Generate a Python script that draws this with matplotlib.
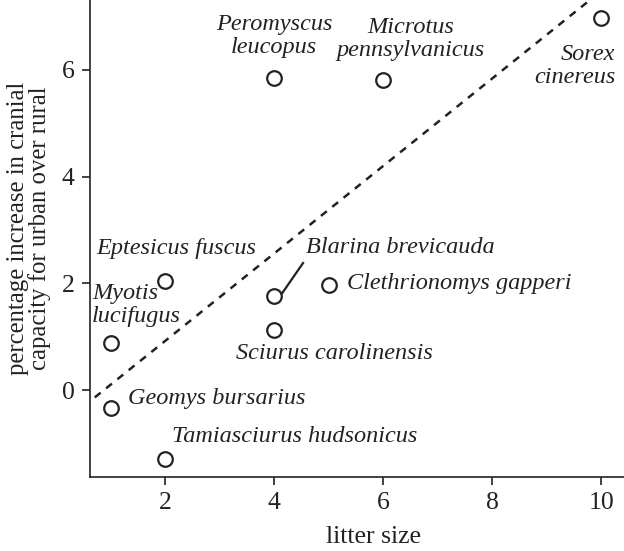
import matplotlib
matplotlib.use('Agg')
import matplotlib.pyplot as plt
import numpy as np

plt.rcParams['font.family'] = ['Liberation Serif', 'DejaVu Serif']

# litter size vs % increase in cranial capacity (urban over rural)
species = ['Peromyscus\nleucopus', 'Microtus\npennsylvanicus', 'Sorex\ncinereus',
           'Eptesicus fuscus', 'Myotis\nlucifugus', 'Blarina brevicauda',
           'Sciurus carolinensis', 'Clethrionomys gapperi', 'Geomys bursarius',
           'Tamiasciurus hudsonicus']
litter = [4, 6, 10, 2, 1, 4, 4, 5, 1, 2]
increase = [5.85, 5.81, 6.98, 2.04, 0.88, 1.76, 1.12, 1.97, -0.34, -1.29]

# label anchor positions (data coords) and alignment
lab_x = [4.0, 6.5, 10.26, 0.73, 0.66, 4.59, 3.30, 5.34, 1.32, 2.13]
lab_y = [6.63, 6.58, 6.07, 2.66, 1.59, 2.68, 0.69, 2.0, -0.15, -0.88]
lab_ha = ['center', 'center', 'right', 'left', 'left', 'left', 'left', 'left', 'left', 'left']

fig = plt.figure(figsize=(6.24, 5.51), dpi=100)
ax = fig.add_axes([90/624, 74/551, 534/624, 477/551])

ax.plot(litter, increase, 'o', mfc='white', mec='#222222', ms=10.5, mew=1.6,
        zorder=3, clip_on=False)

# least squares line
b, a = np.polyfit(litter, increase, 1)
xx = np.array([0.5, 11])
ax.plot(xx, a + b*xx, color='#222222', lw=1.8, ls=(0, (3, 2.8)))

for s, x, y, ha in zip(species, lab_x, lab_y, lab_ha):
    ax.text(x, y, s, ha=ha, va='center', multialignment=ha, style='italic',
            fontsize=17.5, color='#222222', linespacing=1.1)

# leader line for Blarina
ax.plot([4.15, 4.53], [1.82, 2.38], color='#222222', lw=1.6)

ax.set_xlim(0.62, 10.42)
ax.set_ylim(-1.63, 7.31)
ax.set_xticks([2, 4, 6, 8, 10])
ax.set_yticks([0, 2, 4, 6])
for side in ['top', 'right']:
    ax.spines[side].set_visible(False)
for side in ['left', 'bottom']:
    ax.spines[side].set_linewidth(1.2)
    ax.spines[side].set_color('#222222')
ax.tick_params(direction='out', length=6, width=1.2, color='#222222',
               labelsize=18.5, labelcolor='#222222', pad=5)

ax.set_xlabel('litter size', fontsize=18.5, color='#222222')
ax.xaxis.set_label_coords((373 - 90)/534, -(526 - 477)/477)
ax.set_ylabel('percentage increase in cranial\ncapacity for urban over rural',
              fontsize=17.8, color='#222222', linespacing=0.95)
ax.yaxis.set_label_coords(-(90 - 51)/534, (477 - 228)/477)

fig.savefig('out.png', dpi=100)
